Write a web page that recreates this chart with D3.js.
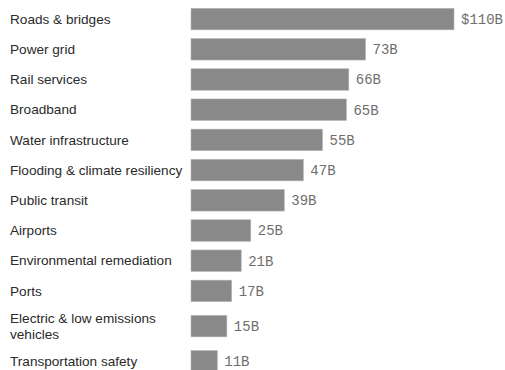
<!DOCTYPE html>
<head>
  <meta charset="utf-8">
  <script src="https://d3js.org/d3.v7.min.js"></script>
  <style>
    body { margin: 0; background: #fff; }
    .label { font-family: "Liberation Sans", Arial, sans-serif; font-size: 13.6px; fill: #2a2a2a; }
    .value { font-family: "Liberation Mono", monospace; font-size: 14px; fill: #6e6e6e; }
  </style>
</head>
<body>
  <div id="chart"></div>
  <script>
    var width = 505;
    var height = 370;

    // categories (line breaks with "|")
    var categories = [
      "Roads & bridges",
      "Power grid",
      "Rail services",
      "Broadband",
      "Water infrastructure",
      "Flooding & climate resiliency",
      "Public transit",
      "Airports",
      "Environmental remediation",
      "Ports",
      "Electric & low emissions|vehicles",
      "Transportation safety"
    ];
    // billions of dollars
    var amounts = [110, 73, 66, 65, 55, 47, 39, 25, 21, 17, 15, 11];
    var valueLabels = ["$110B", "73B", "66B", "65B", "55B", "47B", "39B", "25B", "21B", "17B", "15B", "11B"];

    var data = categories.map(function(c, i) {
      return { lines: c.split("|"), value: amounts[i], text: valueLabels[i] };
    });

    var rowH = 30.2, extraPerLine = 10, barH = 21.5, topPad = 4;
    var rowHeights = data.map(function(d) { return rowH + (d.lines.length - 1) * extraPerLine; });
    var ends = d3.cumsum(rowHeights);
    data.forEach(function(d, i) {
      d.center = topPad + ends[i] - rowHeights[i] / 2;
    });

    var x = d3.scaleLinear().domain([0, 110]).range([191, 454]);

    var svg = d3.select("#chart").append("svg")
      .attr("width", width)
      .attr("height", height);

    var row = svg.selectAll(".row")
      .data(data)
      .enter().append("g")
      .attr("class", "row")
      .attr("transform", function(d) { return "translate(0," + d.center + ")"; });

    row.append("rect")
      .attr("x", x(0))
      .attr("y", -barH / 2)
      .attr("width", function(d) { return x(d.value) - x(0); })
      .attr("height", barH)
      .attr("fill", "#898989")
      .attr("stroke", "#b5b5b5")
      .attr("stroke-width", 0.6);

    row.append("text")
      .attr("class", "value")
      .attr("x", function(d) { return x(d.value) + 7; })
      .attr("dy", "0.35em")
      .text(function(d) { return d.text; });

    var lab = row.append("text")
      .attr("class", "label")
      .attr("x", 10);
    lab.selectAll("tspan")
      .data(function(d) {
        return d.lines.map(function(l, j) { return { t: l, j: j, n: d.lines.length }; });
      })
      .enter().append("tspan")
      .attr("x", 10)
      .attr("y", function(d) { return (d.j - (d.n - 1) / 2) * 16; })
      .attr("dy", "0.35em")
      .text(function(d) { return d.t; });
  </script>
</body>
